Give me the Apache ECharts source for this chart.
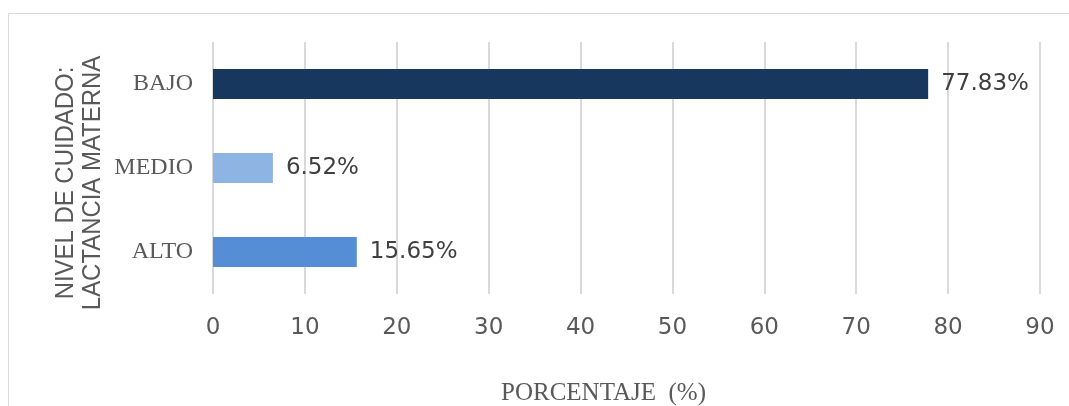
<!DOCTYPE html>
<html>
<head>
    <meta charset="UTF-8">
    <title>Nivel de cuidado</title>
    <script src="https://cdn.jsdelivr.net/npm/echarts@6/dist/echarts.min.js"></script>
</head>
<body style="margin:0;background:#fff;">
<div id="chart" style="width:1069px;height:406px;"></div>
<script type="text/javascript">
    // data
    var categories = ['ALTO', 'MEDIO', 'BAJO'];
    var values = [15.65, 6.52, 77.83];
    var barColors = ['#558ED5', '#8EB4E3', '#17375E'];
    var xTicks = [0, 10, 20, 30, 40, 50, 60, 70, 80, 90];

    var myChart = echarts.init(document.getElementById('chart'));

    myChart.setOption({
        animation: false,
        graphic: [{
            type: 'rect',
            shape: {x: 8.5, y: 13.5, width: 1080, height: 420},
            style: {fill: 'none', stroke: '#d9d9d9', lineWidth: 1}
        }, {
            type: 'text',
            x: 79,
            y: 183,
            rotation: Math.PI / 2,
            scaleX: 0.92,
            style: {
                text: 'NIVEL DE CUIDADO:\nLACTANCIA MATERNA',
                fontFamily: '"Liberation Sans", sans-serif',
                fontSize: 26,
                lineHeight: 27,
                fill: '#595959',
                align: 'center',
                verticalAlign: 'middle'
            }
        }],
        grid: {left: 213, right: 29, top: 42, bottom: 112, outerBoundsMode: 'none', containLabel: false},
        xAxis: {
            type: 'value',
            min: 0,
            max: 90,
            interval: 10,
            axisLine: {show: false},
            axisTick: {show: false},
            splitLine: {lineStyle: {color: '#d9d9d9', width: 2}},
            axisLabel: {
                color: '#595959',
                fontFamily: 'DejaVu Sans',
                fontSize: 23,
                margin: 23,
                formatter: function (v) { return xTicks.indexOf(v) >= 0 ? String(v) : ''; }
            },
            name: 'PORCENTAJE  (%)',
            nameLocation: 'middle',
            nameGap: 87,
            nameTextStyle: {
                color: '#595959',
                fontFamily: '"Liberation Serif", serif',
                fontSize: 25,
                padding: [0, 46, 0, 0]
            }
        },
        yAxis: {
            type: 'category',
            data: categories,
            axisLine: {show: false},
            axisTick: {show: false},
            axisLabel: {
                color: '#595959',
                fontFamily: '"Liberation Serif", serif',
                fontSize: 24,
                margin: 20
            }
        },
        series: [{
            type: 'bar',
            barWidth: 30,
            data: values.map(function (v, i) {
                return {value: v, itemStyle: {color: barColors[i]}};
            }),
            label: {
                show: true,
                position: 'right',
                distance: 13,
                color: '#404040',
                fontFamily: 'DejaVu Sans',
                fontSize: 23,
                formatter: function (p) { return p.value.toFixed(2) + '%'; }
            }
        }]
    });
</script>
</body>
</html>
